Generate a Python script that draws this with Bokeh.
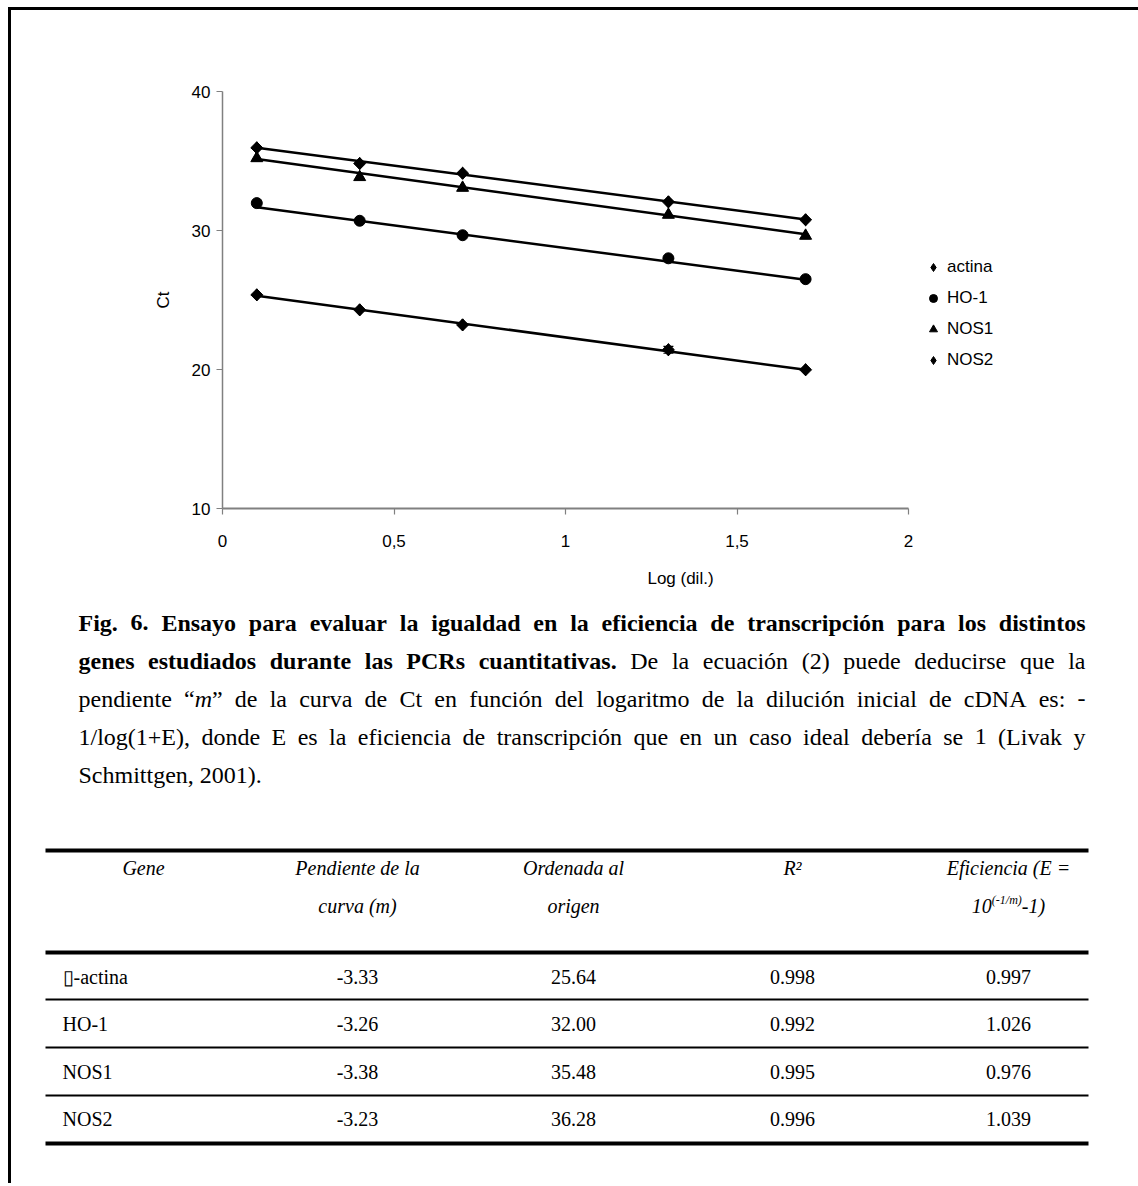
import math

from bokeh.plotting import figure
from bokeh.models import (Range1d, FixedTicker, CustomJSTickFormatter, Legend, LegendItem,
                          ColumnDataSource, Whisker, TeeHead, Div, Spacer)
from bokeh.layouts import column, row
from bokeh.embed import file_html
from bokeh.resources import INLINE
from bokeh.core.properties import value

# ---- data ---------------------------------------------------------------
log_dil = [0.1, 0.4, 0.7, 1.3, 1.7]
ct_actina = [25.37, 24.29, 23.21, 21.42, 19.98]
ct_ho1 = [31.97, 30.70, 29.66, 28.00, 26.50]
ct_nos1 = [35.20, 33.84, 33.07, 31.13, 29.62]
ct_nos2 = [35.95, 34.82, 34.12, 32.06, 30.77]
err_actina = [0.0, 0.0, 0.0, 0.25, 0.0]

series_names = ["actina", "HO-1", "NOS1", "NOS2"]

genes = ["\u25af-actina", "HO-1", "NOS1", "NOS2"]
pendiente = [-3.33, -3.26, -3.38, -3.23]
ordenada = [25.64, 32.00, 35.48, 36.28]
r2 = [0.998, 0.992, 0.995, 0.996]
eficiencia = [0.997, 1.026, 0.976, 1.039]

x_ticks = [0, 0.5, 1, 1.5, 2]
y_ticks = [10, 20, 30, 40]

SANS = "Liberation Sans"
SERIF = "Liberation Serif"

# ---- chart --------------------------------------------------------------
FIG_W = 1127
LEFT = 211          # room for the y axis
AXIS_PX = 686       # pixel length of the 0..2 axis
x_end = 2 * (FIG_W - LEFT) / AXIS_PX   # frame runs on to the right edge; legend sits there

p = figure(width=FIG_W, height=588, x_range=Range1d(0, x_end), y_range=Range1d(10, 40),
           output_backend="svg", toolbar_location=None,
           min_border_left=LEFT, min_border_right=0, min_border_top=81, min_border_bottom=90)
p.outline_line_color = None
p.xgrid.visible = False
p.ygrid.visible = False
p.background_fill_color = "white"
p.border_fill_color = "white"

# (marker, size, angle) for the points; (marker, size) for the smaller legend swatch,
# which is drawn underneath the points so that only the legend shows it
marker_styles = [("square", 8.5, math.pi / 4), ("circle", 11, 0.0),
                 ("triangle", 12, 0.0), ("square", 8.5, math.pi / 4)]
legend_swatch = [("diamond", 12), ("circle", 9), ("triangle", 10), ("diamond", 12)]
ct_series = [ct_actina, ct_ho1, ct_nos1, ct_nos2]
fit_x = [log_dil[0], log_dil[-1]]

items = []
for name, ct, m, b, (mk, sz, ang), (lmk, lsz) in zip(series_names, ct_series, pendiente, ordenada,
                                                     marker_styles, legend_swatch):
    # regression line from the slope / intercept in the table
    p.line(fit_x, [b + m * x for x in fit_x], line_color="black", line_width=2.5)
    swatch = p.scatter(log_dil, ct, marker=lmk, size=lsz, fill_color="black", line_color="black")
    p.scatter(log_dil, ct, marker=mk, size=sz, angle=ang, fill_color="black", line_color="black")
    items.append(LegendItem(label=name, renderers=[swatch]))

# small error bars
idx = [i for i, e in enumerate(err_actina) if e > 0]
err_src = ColumnDataSource(dict(
    x=[log_dil[i] for i in idx],
    lo=[ct_actina[i] - err_actina[i] for i in idx],
    hi=[ct_actina[i] + err_actina[i] for i in idx],
))
p.add_layout(Whisker(source=err_src, base="x", lower="lo", upper="hi",
                     line_color="black", line_width=1.2,
                     upper_head=TeeHead(size=10, line_color="black", line_width=1.2),
                     lower_head=TeeHead(size=10, line_color="black", line_width=1.2)))

legend = Legend(items=items, location=(701, 138), orientation="vertical",
                border_line_color=None, background_fill_alpha=0,
                padding=0, margin=0, spacing=11,
                label_height=20, glyph_height=20, glyph_width=20, label_standoff=4,
                label_text_font=SANS, label_text_font_size="17px", label_text_color="black")
p.add_layout(legend)

for ax in (p.xaxis[0], p.yaxis[0]):
    ax.axis_line_color = "#808080"
    ax.axis_line_width = 1.5
    ax.major_tick_line_color = "#808080"
    ax.major_tick_line_width = 1.2
    ax.minor_tick_line_color = None
    ax.major_tick_in = 0
    ax.major_tick_out = 6
    ax.major_label_text_font = SANS
    ax.major_label_text_font_size = "17px"
    ax.major_label_text_color = "black"
    ax.axis_label_text_font = SANS
    ax.axis_label_text_font_size = "17px"
    ax.axis_label_text_font_style = "normal"
    ax.axis_label_text_color = "black"

p.xaxis.axis_line_width = 2
p.xaxis.bounds = (0, 2)
p.xaxis.ticker = FixedTicker(ticks=x_ticks)
p.xaxis.formatter = CustomJSTickFormatter(code="return String(tick).replace('.', ',');")
p.xaxis.major_label_standoff = 20
p.xaxis.axis_label = "Log (dil.)"
p.xaxis.axis_label_standoff = 19

p.yaxis.ticker = FixedTicker(ticks=y_ticks)
p.yaxis.major_label_standoff = 6
p.yaxis.axis_label = "Ct"
p.yaxis.axis_label_standoff = 16

# ---- caption and table --------------------------------------------------
T_H = 585
t = figure(width=FIG_W, height=T_H, x_range=Range1d(0, FIG_W), y_range=Range1d(T_H, 0),
           output_backend="svg", toolbar_location=None,
           x_axis_location=None, y_axis_location=None, min_border=0)
t.grid.grid_line_color = None
t.outline_line_color = None
t.background_fill_color = "white"
t.border_fill_color = "white"


def _widths(spec):
    d = {}
    for chars, w in spec:
        for c in chars:
            d[c] = w
    return d


# advance widths (1/1000 em) of the Times metric set used by Liberation Serif
ADV = {
    "r": _widths([(" ,.", 250), ("iltj/:\u00ed", 278), ("fr()-I", 333), ("sJ", 389),
                  ("acez\u201c\u201d\u00e1\u00e9", 444), ("bdghknopquvxy0123456789\u00f3\u00fa", 500),
                  ("FPS", 556), ("+", 564), ("ELTZ", 611), ("BCR", 667),
                  ("wADGHKNOQUVXY", 722), ("m", 778), ("M", 889), ("W", 944)]),
    "b": _widths([(" ,.", 250), ("il\u00ed", 278), ("ftj()-", 333), ("sI", 389),
                  ("cerz\u00e9", 444), ("abgovxyJ0123456789\u00f3\u00e1", 500),
                  ("dhknpquS", 556), ("FP", 611), ("EBLTZ", 667),
                  ("wACDNRUVXY", 722), ("GHKOQ", 778), ("m", 833), ("M", 944), ("W", 1000)]),
    "i": _widths([(" ,.", 250), ("()-", 333), ("/", 278), ("0123456789", 500), ("m", 722)]),
}


def text_width(s, style, size):
    table = ADV[style]
    return sum(table.get(ch, 500) for ch in s) * size / 1000.0


CAP_SIZE = 24
CAP_X0, CAP_X1 = 67, 1074
cap_y = [24, 62, 100, 138, 176]

# (text, style, glued to previous word)
caption = [
    [("Fig. 6. Ensayo para evaluar la igualdad en la eficiencia de transcripción para los distintos", "b", False)],
    [("genes estudiados durante las PCRs cuantitativas.", "b", False),
     ("De la ecuación (2) puede deducirse que la", "r", False)],
    [("pendiente \u201c", "r", False), ("m", "i", True),
     ("\u201d de la curva de Ct en función del logaritmo de la dilución inicial de cDNA es: -", "r", True)],
    [("1/log(1+E), donde E es la eficiencia de transcripción que en un caso ideal debería se 1 (Livak y", "r", False)],
    [("Schmittgen, 2001).", "r", False)],
]

runs = {"r": ([], [], []), "b": ([], [], []), "i": ([], [], [])}
for li, segs in enumerate(caption):
    words = []
    for text, style, glue in segs:
        for k, tok in enumerate(text.split(" ")):
            if k == 0 and glue and words:
                words[-1].append((tok, style))
            else:
                words.append([(tok, style)])
    widths = [sum(text_width(s, st, CAP_SIZE) for s, st in w) for w in words]
    if li < len(caption) - 1 and len(words) > 1:
        gap = (CAP_X1 - CAP_X0 - sum(widths)) / (len(words) - 1)
    else:
        gap = text_width(" ", "r", CAP_SIZE)
    x = CAP_X0
    for w, wd in zip(words, widths):
        xx = x
        for s, st in w:
            if s:
                runs[st][0].append(xx)
                runs[st][1].append(cap_y[li])
                runs[st][2].append(s)
            xx += text_width(s, st, CAP_SIZE)
        x += wd + gap

font_styles = {"r": "normal", "b": "bold", "i": "italic"}
for st, (xs, ys, ts) in runs.items():
    if ts:
        t.text(x=xs, y=ys, text=ts, text_font=value(SERIF), text_font_style=font_styles[st],
               text_font_size=f"{CAP_SIZE}px", text_align="left", text_baseline="middle",
               text_color="black")

# table
TAB_SIZE = 20
tab_x0, tab_x1 = 34, 1077
col_x = [132, 346, 562, 781, 997]
first_col_x = 51
head_y = [269, 307]
row_y = [378, 425, 473, 520]

thick_y = [252, 354, 545]
thin_y = [401, 449, 497]
t.segment(x0=[tab_x0] * 3, y0=thick_y, x1=[tab_x1] * 3, y1=thick_y, line_color="black", line_width=4)
t.segment(x0=[tab_x0] * 3, y0=thin_y, x1=[tab_x1] * 3, y1=thin_y, line_color="black", line_width=2)

head1 = ["Gene", "Pendiente de la", "Ordenada al", "R\u00b2", "Eficiencia (E ="]
head2 = ["curva (m)", "origen"]
t.text(x=col_x, y=[head_y[0]] * 5, text=head1, text_font=value(SERIF), text_font_style="italic",
       text_font_size=f"{TAB_SIZE}px", text_align="center", text_baseline="middle", text_color="black")
t.text(x=col_x[1:3], y=[head_y[1]] * 2, text=head2, text_font=value(SERIF), text_font_style="italic",
       text_font_size=f"{TAB_SIZE}px", text_align="center", text_baseline="middle", text_color="black")

# "10^(-1/m)-1)" with a raised exponent
sup_size = 12
eff_runs = [("10", TAB_SIZE, 0), ("(-1/m)", sup_size, -6), ("-1)", TAB_SIZE, 0)]
total = sum(text_width(s, "i", sz) for s, sz, _ in eff_runs)
xx = col_x[4] - total / 2
for s, sz, dy in eff_runs:
    t.text(x=[xx], y=[head_y[1] + dy], text=[s], text_font=value(SERIF), text_font_style="italic",
           text_font_size=f"{sz}px", text_align="left", text_baseline="middle", text_color="black")
    xx += text_width(s, "i", sz)

t.text(x=[first_col_x] * 4, y=row_y, text=genes, text_font=value(SERIF),
       text_font_size=f"{TAB_SIZE}px", text_align="left", text_baseline="middle", text_color="black")
cols = [[f"{v:.2f}" for v in pendiente], [f"{v:.2f}" for v in ordenada],
        [f"{v:.3f}" for v in r2], [f"{v:.3f}" for v in eficiencia]]
for cx, vals in zip(col_x[1:], cols):
    t.text(x=[cx] * 4, y=row_y, text=vals, text_font=value(SERIF),
           text_font_size=f"{TAB_SIZE}px", text_align="center", text_baseline="middle", text_color="black")

# ---- page frame ---------------------------------------------------------
black = {"background-color": "black"}
top_rule = Div(width=FIG_W, height=3, styles=black, margin=0)
left_rule = Div(width=3, height=1176, styles=black, margin=0)
page = column(
    Spacer(width=1138, height=7, margin=0),
    row(Spacer(width=8, height=1176, margin=0), left_rule,
        column(top_rule, row(p), row(t))),
)

open("out.html", "w").write(file_html(page, INLINE))
